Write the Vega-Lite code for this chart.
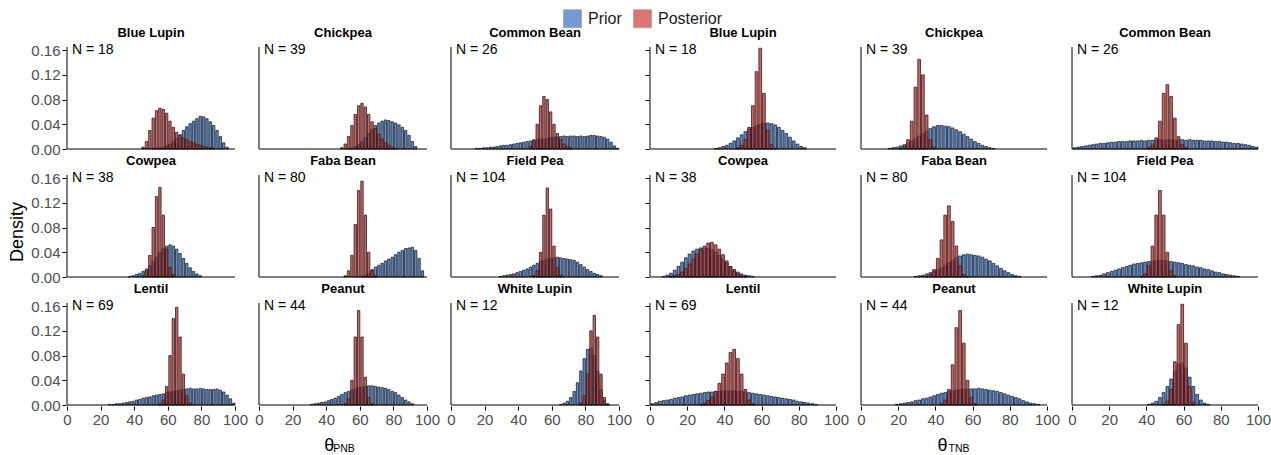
{
"$schema": "https://vega.github.io/schema/vega-lite/v6.json",
"padding": {"left": 8, "top": 9, "right": 0, "bottom": 0},
"config": {"font": "Liberation Sans", "view": {"stroke": null},
 "axis": {"grid": false, "domain": false, "tickColor": "#000", "tickSize": 4, "tickWidth": 1, "labelFontSize": 15, "labelColor": "#4d4d4d", "labelOverlap": false},
 "header": {"labelFontSize": 13, "labelFontWeight": "bold", "labelColor": "#000", "labelPadding": 3}},
"title": {"text": "Density", "orient": "left", "anchor": "middle", "fontSize": 18, "fontWeight": "normal", "color": "#000", "offset": 4},
"resolve": {"scale": {"color": "shared"}, "legend": {"color": "shared"}},
"spacing": 12,
"datasets": {
"pnb": [
{"c":"Blue Lupin","lab":"N = 18"},{"c":"Chickpea","lab":"N = 39"},{"c":"Common Bean","lab":"N = 26"},{"c":"Cowpea","lab":"N = 38"},{"c":"Faba Bean","lab":"N = 80"},{"c":"Field Pea","lab":"N = 104"},{"c":"Lentil","lab":"N = 69"},{"c":"Peanut","lab":"N = 44"},{"c":"White Lupin","lab":"N = 12"},
{"c":"Blue Lupin","s":"Prior","x":50,"y":0.001},{"c":"Blue Lupin","s":"Prior","x":52,"y":0.001},{"c":"Blue Lupin","s":"Prior","x":54,"y":0.002},{"c":"Blue Lupin","s":"Prior","x":56,"y":0.003},{"c":"Blue Lupin","s":"Prior","x":58,"y":0.005},{"c":"Blue Lupin","s":"Prior","x":60,"y":0.008},{"c":"Blue Lupin","s":"Prior","x":62,"y":0.012},{"c":"Blue Lupin","s":"Prior","x":64,"y":0.017},{"c":"Blue Lupin","s":"Prior","x":66,"y":0.023},{"c":"Blue Lupin","s":"Prior","x":68,"y":0.03},{"c":"Blue Lupin","s":"Prior","x":70,"y":0.036},{"c":"Blue Lupin","s":"Prior","x":72,"y":0.041},{"c":"Blue Lupin","s":"Prior","x":74,"y":0.045},{"c":"Blue Lupin","s":"Prior","x":76,"y":0.049},{"c":"Blue Lupin","s":"Prior","x":78,"y":0.053},{"c":"Blue Lupin","s":"Prior","x":80,"y":0.052},{"c":"Blue Lupin","s":"Prior","x":82,"y":0.049},{"c":"Blue Lupin","s":"Prior","x":84,"y":0.044},{"c":"Blue Lupin","s":"Prior","x":86,"y":0.038},{"c":"Blue Lupin","s":"Prior","x":88,"y":0.03},{"c":"Blue Lupin","s":"Prior","x":90,"y":0.02},{"c":"Blue Lupin","s":"Prior","x":92,"y":0.01},{"c":"Blue Lupin","s":"Prior","x":94,"y":0.003},
{"c":"Blue Lupin","s":"Posterior","x":44,"y":0.003},{"c":"Blue Lupin","s":"Posterior","x":46,"y":0.012},{"c":"Blue Lupin","s":"Posterior","x":48,"y":0.03},{"c":"Blue Lupin","s":"Posterior","x":50,"y":0.05},{"c":"Blue Lupin","s":"Posterior","x":52,"y":0.062},{"c":"Blue Lupin","s":"Posterior","x":54,"y":0.066},{"c":"Blue Lupin","s":"Posterior","x":56,"y":0.064},{"c":"Blue Lupin","s":"Posterior","x":58,"y":0.058},{"c":"Blue Lupin","s":"Posterior","x":60,"y":0.045},{"c":"Blue Lupin","s":"Posterior","x":62,"y":0.035},{"c":"Blue Lupin","s":"Posterior","x":64,"y":0.027},{"c":"Blue Lupin","s":"Posterior","x":66,"y":0.022},{"c":"Blue Lupin","s":"Posterior","x":68,"y":0.018},{"c":"Blue Lupin","s":"Posterior","x":70,"y":0.015},{"c":"Blue Lupin","s":"Posterior","x":72,"y":0.012},{"c":"Blue Lupin","s":"Posterior","x":74,"y":0.01},{"c":"Blue Lupin","s":"Posterior","x":76,"y":0.008},{"c":"Blue Lupin","s":"Posterior","x":78,"y":0.006},{"c":"Blue Lupin","s":"Posterior","x":80,"y":0.004},{"c":"Blue Lupin","s":"Posterior","x":82,"y":0.003},{"c":"Blue Lupin","s":"Posterior","x":84,"y":0.002},{"c":"Blue Lupin","s":"Posterior","x":86,"y":0.001},
{"c":"Chickpea","s":"Prior","x":52,"y":0.001},{"c":"Chickpea","s":"Prior","x":54,"y":0.002},{"c":"Chickpea","s":"Prior","x":56,"y":0.004},{"c":"Chickpea","s":"Prior","x":58,"y":0.007},{"c":"Chickpea","s":"Prior","x":60,"y":0.012},{"c":"Chickpea","s":"Prior","x":62,"y":0.018},{"c":"Chickpea","s":"Prior","x":64,"y":0.025},{"c":"Chickpea","s":"Prior","x":66,"y":0.032},{"c":"Chickpea","s":"Prior","x":68,"y":0.038},{"c":"Chickpea","s":"Prior","x":70,"y":0.042},{"c":"Chickpea","s":"Prior","x":72,"y":0.045},{"c":"Chickpea","s":"Prior","x":74,"y":0.047},{"c":"Chickpea","s":"Prior","x":76,"y":0.046},{"c":"Chickpea","s":"Prior","x":78,"y":0.044},{"c":"Chickpea","s":"Prior","x":80,"y":0.042},{"c":"Chickpea","s":"Prior","x":82,"y":0.039},{"c":"Chickpea","s":"Prior","x":84,"y":0.035},{"c":"Chickpea","s":"Prior","x":86,"y":0.03},{"c":"Chickpea","s":"Prior","x":88,"y":0.022},{"c":"Chickpea","s":"Prior","x":90,"y":0.012},{"c":"Chickpea","s":"Prior","x":92,"y":0.004},
{"c":"Chickpea","s":"Posterior","x":48,"y":0.002},{"c":"Chickpea","s":"Posterior","x":50,"y":0.008},{"c":"Chickpea","s":"Posterior","x":52,"y":0.02},{"c":"Chickpea","s":"Posterior","x":54,"y":0.038},{"c":"Chickpea","s":"Posterior","x":56,"y":0.056},{"c":"Chickpea","s":"Posterior","x":58,"y":0.07},{"c":"Chickpea","s":"Posterior","x":60,"y":0.074},{"c":"Chickpea","s":"Posterior","x":62,"y":0.068},{"c":"Chickpea","s":"Posterior","x":64,"y":0.056},{"c":"Chickpea","s":"Posterior","x":66,"y":0.044},{"c":"Chickpea","s":"Posterior","x":68,"y":0.033},{"c":"Chickpea","s":"Posterior","x":70,"y":0.024},{"c":"Chickpea","s":"Posterior","x":72,"y":0.016},{"c":"Chickpea","s":"Posterior","x":74,"y":0.01},{"c":"Chickpea","s":"Posterior","x":76,"y":0.006},{"c":"Chickpea","s":"Posterior","x":78,"y":0.003},{"c":"Chickpea","s":"Posterior","x":80,"y":0.001},
{"c":"Common Bean","s":"Prior","x":14,"y":0.001},{"c":"Common Bean","s":"Prior","x":16,"y":0.001},{"c":"Common Bean","s":"Prior","x":18,"y":0.002},{"c":"Common Bean","s":"Prior","x":20,"y":0.002},{"c":"Common Bean","s":"Prior","x":22,"y":0.003},{"c":"Common Bean","s":"Prior","x":24,"y":0.003},{"c":"Common Bean","s":"Prior","x":26,"y":0.004},{"c":"Common Bean","s":"Prior","x":28,"y":0.005},{"c":"Common Bean","s":"Prior","x":30,"y":0.006},{"c":"Common Bean","s":"Prior","x":32,"y":0.006},{"c":"Common Bean","s":"Prior","x":34,"y":0.007},{"c":"Common Bean","s":"Prior","x":36,"y":0.008},{"c":"Common Bean","s":"Prior","x":38,"y":0.009},{"c":"Common Bean","s":"Prior","x":40,"y":0.01},{"c":"Common Bean","s":"Prior","x":42,"y":0.011},{"c":"Common Bean","s":"Prior","x":44,"y":0.012},{"c":"Common Bean","s":"Prior","x":46,"y":0.013},{"c":"Common Bean","s":"Prior","x":48,"y":0.014},{"c":"Common Bean","s":"Prior","x":50,"y":0.015},{"c":"Common Bean","s":"Prior","x":52,"y":0.016},{"c":"Common Bean","s":"Prior","x":54,"y":0.016},{"c":"Common Bean","s":"Prior","x":56,"y":0.017},{"c":"Common Bean","s":"Prior","x":58,"y":0.018},{"c":"Common Bean","s":"Prior","x":60,"y":0.019},{"c":"Common Bean","s":"Prior","x":62,"y":0.02},{"c":"Common Bean","s":"Prior","x":64,"y":0.02},{"c":"Common Bean","s":"Prior","x":66,"y":0.021},{"c":"Common Bean","s":"Prior","x":68,"y":0.02},{"c":"Common Bean","s":"Prior","x":70,"y":0.021},{"c":"Common Bean","s":"Prior","x":72,"y":0.021},{"c":"Common Bean","s":"Prior","x":74,"y":0.02},{"c":"Common Bean","s":"Prior","x":76,"y":0.021},{"c":"Common Bean","s":"Prior","x":78,"y":0.02},{"c":"Common Bean","s":"Prior","x":80,"y":0.021},{"c":"Common Bean","s":"Prior","x":82,"y":0.022},{"c":"Common Bean","s":"Prior","x":84,"y":0.022},{"c":"Common Bean","s":"Prior","x":86,"y":0.021},{"c":"Common Bean","s":"Prior","x":88,"y":0.02},{"c":"Common Bean","s":"Prior","x":90,"y":0.019},{"c":"Common Bean","s":"Prior","x":92,"y":0.016},{"c":"Common Bean","s":"Prior","x":94,"y":0.011},{"c":"Common Bean","s":"Prior","x":96,"y":0.005},{"c":"Common Bean","s":"Prior","x":98,"y":0.001},
{"c":"Common Bean","s":"Posterior","x":46,"y":0.004},{"c":"Common Bean","s":"Posterior","x":48,"y":0.015},{"c":"Common Bean","s":"Posterior","x":50,"y":0.04},{"c":"Common Bean","s":"Posterior","x":52,"y":0.07},{"c":"Common Bean","s":"Posterior","x":54,"y":0.085},{"c":"Common Bean","s":"Posterior","x":56,"y":0.08},{"c":"Common Bean","s":"Posterior","x":58,"y":0.06},{"c":"Common Bean","s":"Posterior","x":60,"y":0.04},{"c":"Common Bean","s":"Posterior","x":62,"y":0.025},{"c":"Common Bean","s":"Posterior","x":64,"y":0.015},{"c":"Common Bean","s":"Posterior","x":66,"y":0.008},{"c":"Common Bean","s":"Posterior","x":68,"y":0.004},{"c":"Common Bean","s":"Posterior","x":70,"y":0.002},
{"c":"Cowpea","s":"Prior","x":36,"y":0.001},{"c":"Cowpea","s":"Prior","x":38,"y":0.002},{"c":"Cowpea","s":"Prior","x":40,"y":0.004},{"c":"Cowpea","s":"Prior","x":42,"y":0.006},{"c":"Cowpea","s":"Prior","x":44,"y":0.009},{"c":"Cowpea","s":"Prior","x":46,"y":0.013},{"c":"Cowpea","s":"Prior","x":48,"y":0.018},{"c":"Cowpea","s":"Prior","x":50,"y":0.025},{"c":"Cowpea","s":"Prior","x":52,"y":0.032},{"c":"Cowpea","s":"Prior","x":54,"y":0.04},{"c":"Cowpea","s":"Prior","x":56,"y":0.046},{"c":"Cowpea","s":"Prior","x":58,"y":0.05},{"c":"Cowpea","s":"Prior","x":60,"y":0.052},{"c":"Cowpea","s":"Prior","x":62,"y":0.05},{"c":"Cowpea","s":"Prior","x":64,"y":0.045},{"c":"Cowpea","s":"Prior","x":66,"y":0.038},{"c":"Cowpea","s":"Prior","x":68,"y":0.03},{"c":"Cowpea","s":"Prior","x":70,"y":0.022},{"c":"Cowpea","s":"Prior","x":72,"y":0.015},{"c":"Cowpea","s":"Prior","x":74,"y":0.009},{"c":"Cowpea","s":"Prior","x":76,"y":0.005},{"c":"Cowpea","s":"Prior","x":78,"y":0.002},
{"c":"Cowpea","s":"Posterior","x":44,"y":0.002},{"c":"Cowpea","s":"Posterior","x":46,"y":0.01},{"c":"Cowpea","s":"Posterior","x":48,"y":0.035},{"c":"Cowpea","s":"Posterior","x":50,"y":0.08},{"c":"Cowpea","s":"Posterior","x":52,"y":0.13},{"c":"Cowpea","s":"Posterior","x":54,"y":0.145},{"c":"Cowpea","s":"Posterior","x":56,"y":0.1},{"c":"Cowpea","s":"Posterior","x":58,"y":0.045},{"c":"Cowpea","s":"Posterior","x":60,"y":0.015},{"c":"Cowpea","s":"Posterior","x":62,"y":0.004},
{"c":"Faba Bean","s":"Prior","x":60,"y":0.001},{"c":"Faba Bean","s":"Prior","x":62,"y":0.003},{"c":"Faba Bean","s":"Prior","x":64,"y":0.006},{"c":"Faba Bean","s":"Prior","x":66,"y":0.012},{"c":"Faba Bean","s":"Prior","x":68,"y":0.016},{"c":"Faba Bean","s":"Prior","x":70,"y":0.019},{"c":"Faba Bean","s":"Prior","x":72,"y":0.022},{"c":"Faba Bean","s":"Prior","x":74,"y":0.026},{"c":"Faba Bean","s":"Prior","x":76,"y":0.029},{"c":"Faba Bean","s":"Prior","x":78,"y":0.032},{"c":"Faba Bean","s":"Prior","x":80,"y":0.036},{"c":"Faba Bean","s":"Prior","x":82,"y":0.04},{"c":"Faba Bean","s":"Prior","x":84,"y":0.043},{"c":"Faba Bean","s":"Prior","x":86,"y":0.046},{"c":"Faba Bean","s":"Prior","x":88,"y":0.047},{"c":"Faba Bean","s":"Prior","x":90,"y":0.048},{"c":"Faba Bean","s":"Prior","x":92,"y":0.043},{"c":"Faba Bean","s":"Prior","x":94,"y":0.03},{"c":"Faba Bean","s":"Prior","x":96,"y":0.01},
{"c":"Faba Bean","s":"Posterior","x":50,"y":0.002},{"c":"Faba Bean","s":"Posterior","x":52,"y":0.01},{"c":"Faba Bean","s":"Posterior","x":54,"y":0.035},{"c":"Faba Bean","s":"Posterior","x":56,"y":0.085},{"c":"Faba Bean","s":"Posterior","x":58,"y":0.14},{"c":"Faba Bean","s":"Posterior","x":60,"y":0.155},{"c":"Faba Bean","s":"Posterior","x":62,"y":0.1},{"c":"Faba Bean","s":"Posterior","x":64,"y":0.04},{"c":"Faba Bean","s":"Posterior","x":66,"y":0.01},{"c":"Faba Bean","s":"Posterior","x":68,"y":0.002},
{"c":"Field Pea","s":"Prior","x":28,"y":0.001},{"c":"Field Pea","s":"Prior","x":30,"y":0.002},{"c":"Field Pea","s":"Prior","x":32,"y":0.003},{"c":"Field Pea","s":"Prior","x":34,"y":0.004},{"c":"Field Pea","s":"Prior","x":36,"y":0.005},{"c":"Field Pea","s":"Prior","x":38,"y":0.007},{"c":"Field Pea","s":"Prior","x":40,"y":0.009},{"c":"Field Pea","s":"Prior","x":42,"y":0.011},{"c":"Field Pea","s":"Prior","x":44,"y":0.013},{"c":"Field Pea","s":"Prior","x":46,"y":0.016},{"c":"Field Pea","s":"Prior","x":48,"y":0.019},{"c":"Field Pea","s":"Prior","x":50,"y":0.022},{"c":"Field Pea","s":"Prior","x":52,"y":0.025},{"c":"Field Pea","s":"Prior","x":54,"y":0.027},{"c":"Field Pea","s":"Prior","x":56,"y":0.029},{"c":"Field Pea","s":"Prior","x":58,"y":0.03},{"c":"Field Pea","s":"Prior","x":60,"y":0.031},{"c":"Field Pea","s":"Prior","x":62,"y":0.032},{"c":"Field Pea","s":"Prior","x":64,"y":0.031},{"c":"Field Pea","s":"Prior","x":66,"y":0.03},{"c":"Field Pea","s":"Prior","x":68,"y":0.029},{"c":"Field Pea","s":"Prior","x":70,"y":0.028},{"c":"Field Pea","s":"Prior","x":72,"y":0.027},{"c":"Field Pea","s":"Prior","x":74,"y":0.024},{"c":"Field Pea","s":"Prior","x":76,"y":0.02},{"c":"Field Pea","s":"Prior","x":78,"y":0.016},{"c":"Field Pea","s":"Prior","x":80,"y":0.012},{"c":"Field Pea","s":"Prior","x":82,"y":0.009},{"c":"Field Pea","s":"Prior","x":84,"y":0.006},{"c":"Field Pea","s":"Prior","x":86,"y":0.004},{"c":"Field Pea","s":"Prior","x":88,"y":0.002},
{"c":"Field Pea","s":"Posterior","x":48,"y":0.002},{"c":"Field Pea","s":"Posterior","x":50,"y":0.01},{"c":"Field Pea","s":"Posterior","x":52,"y":0.04},{"c":"Field Pea","s":"Posterior","x":54,"y":0.1},{"c":"Field Pea","s":"Posterior","x":56,"y":0.144},{"c":"Field Pea","s":"Posterior","x":58,"y":0.11},{"c":"Field Pea","s":"Posterior","x":60,"y":0.05},{"c":"Field Pea","s":"Posterior","x":62,"y":0.015},{"c":"Field Pea","s":"Posterior","x":64,"y":0.003},
{"c":"Lentil","s":"Prior","x":24,"y":0.001},{"c":"Lentil","s":"Prior","x":26,"y":0.001},{"c":"Lentil","s":"Prior","x":28,"y":0.002},{"c":"Lentil","s":"Prior","x":30,"y":0.002},{"c":"Lentil","s":"Prior","x":32,"y":0.003},{"c":"Lentil","s":"Prior","x":34,"y":0.004},{"c":"Lentil","s":"Prior","x":36,"y":0.005},{"c":"Lentil","s":"Prior","x":38,"y":0.006},{"c":"Lentil","s":"Prior","x":40,"y":0.008},{"c":"Lentil","s":"Prior","x":42,"y":0.009},{"c":"Lentil","s":"Prior","x":44,"y":0.011},{"c":"Lentil","s":"Prior","x":46,"y":0.012},{"c":"Lentil","s":"Prior","x":48,"y":0.013},{"c":"Lentil","s":"Prior","x":50,"y":0.015},{"c":"Lentil","s":"Prior","x":52,"y":0.016},{"c":"Lentil","s":"Prior","x":54,"y":0.017},{"c":"Lentil","s":"Prior","x":56,"y":0.018},{"c":"Lentil","s":"Prior","x":58,"y":0.02},{"c":"Lentil","s":"Prior","x":60,"y":0.021},{"c":"Lentil","s":"Prior","x":62,"y":0.022},{"c":"Lentil","s":"Prior","x":64,"y":0.023},{"c":"Lentil","s":"Prior","x":66,"y":0.024},{"c":"Lentil","s":"Prior","x":68,"y":0.025},{"c":"Lentil","s":"Prior","x":70,"y":0.026},{"c":"Lentil","s":"Prior","x":72,"y":0.027},{"c":"Lentil","s":"Prior","x":74,"y":0.026},{"c":"Lentil","s":"Prior","x":76,"y":0.026},{"c":"Lentil","s":"Prior","x":78,"y":0.027},{"c":"Lentil","s":"Prior","x":80,"y":0.026},{"c":"Lentil","s":"Prior","x":82,"y":0.025},{"c":"Lentil","s":"Prior","x":84,"y":0.025},{"c":"Lentil","s":"Prior","x":86,"y":0.025},{"c":"Lentil","s":"Prior","x":88,"y":0.026},{"c":"Lentil","s":"Prior","x":90,"y":0.024},{"c":"Lentil","s":"Prior","x":92,"y":0.021},{"c":"Lentil","s":"Prior","x":94,"y":0.016},{"c":"Lentil","s":"Prior","x":96,"y":0.01},{"c":"Lentil","s":"Prior","x":98,"y":0.003},
{"c":"Lentil","s":"Posterior","x":54,"y":0.002},{"c":"Lentil","s":"Posterior","x":56,"y":0.008},{"c":"Lentil","s":"Posterior","x":58,"y":0.03},{"c":"Lentil","s":"Posterior","x":60,"y":0.08},{"c":"Lentil","s":"Posterior","x":62,"y":0.14},{"c":"Lentil","s":"Posterior","x":64,"y":0.158},{"c":"Lentil","s":"Posterior","x":66,"y":0.11},{"c":"Lentil","s":"Posterior","x":68,"y":0.05},{"c":"Lentil","s":"Posterior","x":70,"y":0.015},{"c":"Lentil","s":"Posterior","x":72,"y":0.003},
{"c":"Peanut","s":"Prior","x":30,"y":0.001},{"c":"Peanut","s":"Prior","x":32,"y":0.002},{"c":"Peanut","s":"Prior","x":34,"y":0.003},{"c":"Peanut","s":"Prior","x":36,"y":0.004},{"c":"Peanut","s":"Prior","x":38,"y":0.005},{"c":"Peanut","s":"Prior","x":40,"y":0.007},{"c":"Peanut","s":"Prior","x":42,"y":0.009},{"c":"Peanut","s":"Prior","x":44,"y":0.011},{"c":"Peanut","s":"Prior","x":46,"y":0.014},{"c":"Peanut","s":"Prior","x":48,"y":0.017},{"c":"Peanut","s":"Prior","x":50,"y":0.02},{"c":"Peanut","s":"Prior","x":52,"y":0.022},{"c":"Peanut","s":"Prior","x":54,"y":0.024},{"c":"Peanut","s":"Prior","x":56,"y":0.026},{"c":"Peanut","s":"Prior","x":58,"y":0.028},{"c":"Peanut","s":"Prior","x":60,"y":0.029},{"c":"Peanut","s":"Prior","x":62,"y":0.03},{"c":"Peanut","s":"Prior","x":64,"y":0.031},{"c":"Peanut","s":"Prior","x":66,"y":0.031},{"c":"Peanut","s":"Prior","x":68,"y":0.03},{"c":"Peanut","s":"Prior","x":70,"y":0.029},{"c":"Peanut","s":"Prior","x":72,"y":0.028},{"c":"Peanut","s":"Prior","x":74,"y":0.027},{"c":"Peanut","s":"Prior","x":76,"y":0.025},{"c":"Peanut","s":"Prior","x":78,"y":0.022},{"c":"Peanut","s":"Prior","x":80,"y":0.02},{"c":"Peanut","s":"Prior","x":82,"y":0.016},{"c":"Peanut","s":"Prior","x":84,"y":0.012},{"c":"Peanut","s":"Prior","x":86,"y":0.008},{"c":"Peanut","s":"Prior","x":88,"y":0.005},{"c":"Peanut","s":"Prior","x":90,"y":0.002},
{"c":"Peanut","s":"Posterior","x":50,"y":0.002},{"c":"Peanut","s":"Posterior","x":52,"y":0.01},{"c":"Peanut","s":"Posterior","x":54,"y":0.04},{"c":"Peanut","s":"Posterior","x":56,"y":0.11},{"c":"Peanut","s":"Posterior","x":58,"y":0.153},{"c":"Peanut","s":"Posterior","x":60,"y":0.11},{"c":"Peanut","s":"Posterior","x":62,"y":0.045},{"c":"Peanut","s":"Posterior","x":64,"y":0.012},{"c":"Peanut","s":"Posterior","x":66,"y":0.002},
{"c":"White Lupin","s":"Prior","x":64,"y":0.001},{"c":"White Lupin","s":"Prior","x":66,"y":0.003},{"c":"White Lupin","s":"Prior","x":68,"y":0.006},{"c":"White Lupin","s":"Prior","x":70,"y":0.012},{"c":"White Lupin","s":"Prior","x":72,"y":0.022},{"c":"White Lupin","s":"Prior","x":74,"y":0.036},{"c":"White Lupin","s":"Prior","x":76,"y":0.055},{"c":"White Lupin","s":"Prior","x":78,"y":0.075},{"c":"White Lupin","s":"Prior","x":80,"y":0.09},{"c":"White Lupin","s":"Prior","x":82,"y":0.092},{"c":"White Lupin","s":"Prior","x":84,"y":0.08},{"c":"White Lupin","s":"Prior","x":86,"y":0.055},{"c":"White Lupin","s":"Prior","x":88,"y":0.025},{"c":"White Lupin","s":"Prior","x":90,"y":0.008},{"c":"White Lupin","s":"Prior","x":92,"y":0.001},
{"c":"White Lupin","s":"Posterior","x":76,"y":0.003},{"c":"White Lupin","s":"Posterior","x":78,"y":0.015},{"c":"White Lupin","s":"Posterior","x":80,"y":0.05},{"c":"White Lupin","s":"Posterior","x":82,"y":0.12},{"c":"White Lupin","s":"Posterior","x":84,"y":0.145},{"c":"White Lupin","s":"Posterior","x":86,"y":0.11},{"c":"White Lupin","s":"Posterior","x":88,"y":0.05},{"c":"White Lupin","s":"Posterior","x":90,"y":0.012},{"c":"White Lupin","s":"Posterior","x":92,"y":0.002}
],
"tnb": [
{"c":"Blue Lupin","lab":"N = 18"},{"c":"Chickpea","lab":"N = 39"},{"c":"Common Bean","lab":"N = 26"},{"c":"Cowpea","lab":"N = 38"},{"c":"Faba Bean","lab":"N = 80"},{"c":"Field Pea","lab":"N = 104"},{"c":"Lentil","lab":"N = 69"},{"c":"Peanut","lab":"N = 44"},{"c":"White Lupin","lab":"N = 12"},
{"c":"Blue Lupin","s":"Prior","x":34,"y":0.001},{"c":"Blue Lupin","s":"Prior","x":36,"y":0.002},{"c":"Blue Lupin","s":"Prior","x":38,"y":0.004},{"c":"Blue Lupin","s":"Prior","x":40,"y":0.006},{"c":"Blue Lupin","s":"Prior","x":42,"y":0.009},{"c":"Blue Lupin","s":"Prior","x":44,"y":0.013},{"c":"Blue Lupin","s":"Prior","x":46,"y":0.018},{"c":"Blue Lupin","s":"Prior","x":48,"y":0.023},{"c":"Blue Lupin","s":"Prior","x":50,"y":0.028},{"c":"Blue Lupin","s":"Prior","x":52,"y":0.032},{"c":"Blue Lupin","s":"Prior","x":54,"y":0.035},{"c":"Blue Lupin","s":"Prior","x":56,"y":0.038},{"c":"Blue Lupin","s":"Prior","x":58,"y":0.04},{"c":"Blue Lupin","s":"Prior","x":60,"y":0.042},{"c":"Blue Lupin","s":"Prior","x":62,"y":0.042},{"c":"Blue Lupin","s":"Prior","x":64,"y":0.041},{"c":"Blue Lupin","s":"Prior","x":66,"y":0.039},{"c":"Blue Lupin","s":"Prior","x":68,"y":0.035},{"c":"Blue Lupin","s":"Prior","x":70,"y":0.03},{"c":"Blue Lupin","s":"Prior","x":72,"y":0.025},{"c":"Blue Lupin","s":"Prior","x":74,"y":0.019},{"c":"Blue Lupin","s":"Prior","x":76,"y":0.013},{"c":"Blue Lupin","s":"Prior","x":78,"y":0.008},{"c":"Blue Lupin","s":"Prior","x":80,"y":0.004},{"c":"Blue Lupin","s":"Prior","x":82,"y":0.002},
{"c":"Blue Lupin","s":"Posterior","x":46,"y":0.002},{"c":"Blue Lupin","s":"Posterior","x":48,"y":0.006},{"c":"Blue Lupin","s":"Posterior","x":50,"y":0.015},{"c":"Blue Lupin","s":"Posterior","x":52,"y":0.035},{"c":"Blue Lupin","s":"Posterior","x":54,"y":0.07},{"c":"Blue Lupin","s":"Posterior","x":56,"y":0.125},{"c":"Blue Lupin","s":"Posterior","x":58,"y":0.163},{"c":"Blue Lupin","s":"Posterior","x":60,"y":0.09},{"c":"Blue Lupin","s":"Posterior","x":62,"y":0.03},{"c":"Blue Lupin","s":"Posterior","x":64,"y":0.007},{"c":"Blue Lupin","s":"Posterior","x":66,"y":0.001},
{"c":"Chickpea","s":"Prior","x":14,"y":0.001},{"c":"Chickpea","s":"Prior","x":16,"y":0.002},{"c":"Chickpea","s":"Prior","x":18,"y":0.003},{"c":"Chickpea","s":"Prior","x":20,"y":0.005},{"c":"Chickpea","s":"Prior","x":22,"y":0.007},{"c":"Chickpea","s":"Prior","x":24,"y":0.01},{"c":"Chickpea","s":"Prior","x":26,"y":0.013},{"c":"Chickpea","s":"Prior","x":28,"y":0.017},{"c":"Chickpea","s":"Prior","x":30,"y":0.021},{"c":"Chickpea","s":"Prior","x":32,"y":0.025},{"c":"Chickpea","s":"Prior","x":34,"y":0.029},{"c":"Chickpea","s":"Prior","x":36,"y":0.033},{"c":"Chickpea","s":"Prior","x":38,"y":0.036},{"c":"Chickpea","s":"Prior","x":40,"y":0.038},{"c":"Chickpea","s":"Prior","x":42,"y":0.038},{"c":"Chickpea","s":"Prior","x":44,"y":0.037},{"c":"Chickpea","s":"Prior","x":46,"y":0.036},{"c":"Chickpea","s":"Prior","x":48,"y":0.034},{"c":"Chickpea","s":"Prior","x":50,"y":0.031},{"c":"Chickpea","s":"Prior","x":52,"y":0.028},{"c":"Chickpea","s":"Prior","x":54,"y":0.024},{"c":"Chickpea","s":"Prior","x":56,"y":0.02},{"c":"Chickpea","s":"Prior","x":58,"y":0.016},{"c":"Chickpea","s":"Prior","x":60,"y":0.012},{"c":"Chickpea","s":"Prior","x":62,"y":0.009},{"c":"Chickpea","s":"Prior","x":64,"y":0.006},{"c":"Chickpea","s":"Prior","x":66,"y":0.004},{"c":"Chickpea","s":"Prior","x":68,"y":0.002},{"c":"Chickpea","s":"Prior","x":70,"y":0.001},
{"c":"Chickpea","s":"Posterior","x":20,"y":0.001},{"c":"Chickpea","s":"Posterior","x":22,"y":0.004},{"c":"Chickpea","s":"Posterior","x":24,"y":0.015},{"c":"Chickpea","s":"Posterior","x":26,"y":0.045},{"c":"Chickpea","s":"Posterior","x":28,"y":0.1},{"c":"Chickpea","s":"Posterior","x":30,"y":0.145},{"c":"Chickpea","s":"Posterior","x":32,"y":0.12},{"c":"Chickpea","s":"Posterior","x":34,"y":0.055},{"c":"Chickpea","s":"Posterior","x":36,"y":0.015},{"c":"Chickpea","s":"Posterior","x":38,"y":0.003},
{"c":"Common Bean","s":"Prior","x":0,"y":0.002},{"c":"Common Bean","s":"Prior","x":2,"y":0.003},{"c":"Common Bean","s":"Prior","x":4,"y":0.004},{"c":"Common Bean","s":"Prior","x":6,"y":0.005},{"c":"Common Bean","s":"Prior","x":8,"y":0.006},{"c":"Common Bean","s":"Prior","x":10,"y":0.007},{"c":"Common Bean","s":"Prior","x":12,"y":0.008},{"c":"Common Bean","s":"Prior","x":14,"y":0.009},{"c":"Common Bean","s":"Prior","x":16,"y":0.009},{"c":"Common Bean","s":"Prior","x":18,"y":0.01},{"c":"Common Bean","s":"Prior","x":20,"y":0.011},{"c":"Common Bean","s":"Prior","x":22,"y":0.011},{"c":"Common Bean","s":"Prior","x":24,"y":0.012},{"c":"Common Bean","s":"Prior","x":26,"y":0.012},{"c":"Common Bean","s":"Prior","x":28,"y":0.012},{"c":"Common Bean","s":"Prior","x":30,"y":0.013},{"c":"Common Bean","s":"Prior","x":32,"y":0.013},{"c":"Common Bean","s":"Prior","x":34,"y":0.013},{"c":"Common Bean","s":"Prior","x":36,"y":0.014},{"c":"Common Bean","s":"Prior","x":38,"y":0.013},{"c":"Common Bean","s":"Prior","x":40,"y":0.014},{"c":"Common Bean","s":"Prior","x":42,"y":0.014},{"c":"Common Bean","s":"Prior","x":44,"y":0.014},{"c":"Common Bean","s":"Prior","x":46,"y":0.015},{"c":"Common Bean","s":"Prior","x":48,"y":0.014},{"c":"Common Bean","s":"Prior","x":50,"y":0.015},{"c":"Common Bean","s":"Prior","x":52,"y":0.015},{"c":"Common Bean","s":"Prior","x":54,"y":0.014},{"c":"Common Bean","s":"Prior","x":56,"y":0.015},{"c":"Common Bean","s":"Prior","x":58,"y":0.015},{"c":"Common Bean","s":"Prior","x":60,"y":0.014},{"c":"Common Bean","s":"Prior","x":62,"y":0.015},{"c":"Common Bean","s":"Prior","x":64,"y":0.014},{"c":"Common Bean","s":"Prior","x":66,"y":0.014},{"c":"Common Bean","s":"Prior","x":68,"y":0.014},{"c":"Common Bean","s":"Prior","x":70,"y":0.013},{"c":"Common Bean","s":"Prior","x":72,"y":0.013},{"c":"Common Bean","s":"Prior","x":74,"y":0.013},{"c":"Common Bean","s":"Prior","x":76,"y":0.012},{"c":"Common Bean","s":"Prior","x":78,"y":0.012},{"c":"Common Bean","s":"Prior","x":80,"y":0.011},{"c":"Common Bean","s":"Prior","x":82,"y":0.011},{"c":"Common Bean","s":"Prior","x":84,"y":0.01},{"c":"Common Bean","s":"Prior","x":86,"y":0.009},{"c":"Common Bean","s":"Prior","x":88,"y":0.009},{"c":"Common Bean","s":"Prior","x":90,"y":0.008},{"c":"Common Bean","s":"Prior","x":92,"y":0.007},{"c":"Common Bean","s":"Prior","x":94,"y":0.006},{"c":"Common Bean","s":"Prior","x":96,"y":0.004},{"c":"Common Bean","s":"Prior","x":98,"y":0.003},
{"c":"Common Bean","s":"Posterior","x":40,"y":0.002},{"c":"Common Bean","s":"Posterior","x":42,"y":0.006},{"c":"Common Bean","s":"Posterior","x":44,"y":0.018},{"c":"Common Bean","s":"Posterior","x":46,"y":0.045},{"c":"Common Bean","s":"Posterior","x":48,"y":0.09},{"c":"Common Bean","s":"Posterior","x":50,"y":0.104},{"c":"Common Bean","s":"Posterior","x":52,"y":0.085},{"c":"Common Bean","s":"Posterior","x":54,"y":0.05},{"c":"Common Bean","s":"Posterior","x":56,"y":0.02},{"c":"Common Bean","s":"Posterior","x":58,"y":0.007},{"c":"Common Bean","s":"Posterior","x":60,"y":0.002},
{"c":"Cowpea","s":"Prior","x":6,"y":0.001},{"c":"Cowpea","s":"Prior","x":8,"y":0.003},{"c":"Cowpea","s":"Prior","x":10,"y":0.006},{"c":"Cowpea","s":"Prior","x":12,"y":0.011},{"c":"Cowpea","s":"Prior","x":14,"y":0.017},{"c":"Cowpea","s":"Prior","x":16,"y":0.024},{"c":"Cowpea","s":"Prior","x":18,"y":0.031},{"c":"Cowpea","s":"Prior","x":20,"y":0.037},{"c":"Cowpea","s":"Prior","x":22,"y":0.042},{"c":"Cowpea","s":"Prior","x":24,"y":0.045},{"c":"Cowpea","s":"Prior","x":26,"y":0.047},{"c":"Cowpea","s":"Prior","x":28,"y":0.047},{"c":"Cowpea","s":"Prior","x":30,"y":0.046},{"c":"Cowpea","s":"Prior","x":32,"y":0.044},{"c":"Cowpea","s":"Prior","x":34,"y":0.04},{"c":"Cowpea","s":"Prior","x":36,"y":0.035},{"c":"Cowpea","s":"Prior","x":38,"y":0.029},{"c":"Cowpea","s":"Prior","x":40,"y":0.023},{"c":"Cowpea","s":"Prior","x":42,"y":0.017},{"c":"Cowpea","s":"Prior","x":44,"y":0.012},{"c":"Cowpea","s":"Prior","x":46,"y":0.008},{"c":"Cowpea","s":"Prior","x":48,"y":0.005},{"c":"Cowpea","s":"Prior","x":50,"y":0.003},{"c":"Cowpea","s":"Prior","x":52,"y":0.002},{"c":"Cowpea","s":"Prior","x":54,"y":0.001},
{"c":"Cowpea","s":"Posterior","x":10,"y":0.001},{"c":"Cowpea","s":"Posterior","x":12,"y":0.002},{"c":"Cowpea","s":"Posterior","x":14,"y":0.004},{"c":"Cowpea","s":"Posterior","x":16,"y":0.008},{"c":"Cowpea","s":"Posterior","x":18,"y":0.014},{"c":"Cowpea","s":"Posterior","x":20,"y":0.021},{"c":"Cowpea","s":"Posterior","x":22,"y":0.029},{"c":"Cowpea","s":"Posterior","x":24,"y":0.037},{"c":"Cowpea","s":"Posterior","x":26,"y":0.044},{"c":"Cowpea","s":"Posterior","x":28,"y":0.05},{"c":"Cowpea","s":"Posterior","x":30,"y":0.055},{"c":"Cowpea","s":"Posterior","x":32,"y":0.056},{"c":"Cowpea","s":"Posterior","x":34,"y":0.052},{"c":"Cowpea","s":"Posterior","x":36,"y":0.045},{"c":"Cowpea","s":"Posterior","x":38,"y":0.036},{"c":"Cowpea","s":"Posterior","x":40,"y":0.026},{"c":"Cowpea","s":"Posterior","x":42,"y":0.017},{"c":"Cowpea","s":"Posterior","x":44,"y":0.01},{"c":"Cowpea","s":"Posterior","x":46,"y":0.005},{"c":"Cowpea","s":"Posterior","x":48,"y":0.002},{"c":"Cowpea","s":"Posterior","x":50,"y":0.001},
{"c":"Faba Bean","s":"Prior","x":28,"y":0.001},{"c":"Faba Bean","s":"Prior","x":30,"y":0.002},{"c":"Faba Bean","s":"Prior","x":32,"y":0.003},{"c":"Faba Bean","s":"Prior","x":34,"y":0.005},{"c":"Faba Bean","s":"Prior","x":36,"y":0.007},{"c":"Faba Bean","s":"Prior","x":38,"y":0.009},{"c":"Faba Bean","s":"Prior","x":40,"y":0.012},{"c":"Faba Bean","s":"Prior","x":42,"y":0.015},{"c":"Faba Bean","s":"Prior","x":44,"y":0.019},{"c":"Faba Bean","s":"Prior","x":46,"y":0.023},{"c":"Faba Bean","s":"Prior","x":48,"y":0.027},{"c":"Faba Bean","s":"Prior","x":50,"y":0.031},{"c":"Faba Bean","s":"Prior","x":52,"y":0.034},{"c":"Faba Bean","s":"Prior","x":54,"y":0.036},{"c":"Faba Bean","s":"Prior","x":56,"y":0.037},{"c":"Faba Bean","s":"Prior","x":58,"y":0.036},{"c":"Faba Bean","s":"Prior","x":60,"y":0.035},{"c":"Faba Bean","s":"Prior","x":62,"y":0.034},{"c":"Faba Bean","s":"Prior","x":64,"y":0.032},{"c":"Faba Bean","s":"Prior","x":66,"y":0.029},{"c":"Faba Bean","s":"Prior","x":68,"y":0.026},{"c":"Faba Bean","s":"Prior","x":70,"y":0.022},{"c":"Faba Bean","s":"Prior","x":72,"y":0.018},{"c":"Faba Bean","s":"Prior","x":74,"y":0.014},{"c":"Faba Bean","s":"Prior","x":76,"y":0.01},{"c":"Faba Bean","s":"Prior","x":78,"y":0.007},{"c":"Faba Bean","s":"Prior","x":80,"y":0.004},{"c":"Faba Bean","s":"Prior","x":82,"y":0.002},{"c":"Faba Bean","s":"Prior","x":84,"y":0.001},
{"c":"Faba Bean","s":"Posterior","x":34,"y":0.001},{"c":"Faba Bean","s":"Posterior","x":36,"y":0.004},{"c":"Faba Bean","s":"Posterior","x":38,"y":0.012},{"c":"Faba Bean","s":"Posterior","x":40,"y":0.03},{"c":"Faba Bean","s":"Posterior","x":42,"y":0.06},{"c":"Faba Bean","s":"Posterior","x":44,"y":0.1},{"c":"Faba Bean","s":"Posterior","x":46,"y":0.115},{"c":"Faba Bean","s":"Posterior","x":48,"y":0.09},{"c":"Faba Bean","s":"Posterior","x":50,"y":0.05},{"c":"Faba Bean","s":"Posterior","x":52,"y":0.018},{"c":"Faba Bean","s":"Posterior","x":54,"y":0.004},{"c":"Faba Bean","s":"Posterior","x":56,"y":0.001},
{"c":"Field Pea","s":"Prior","x":10,"y":0.001},{"c":"Field Pea","s":"Prior","x":12,"y":0.002},{"c":"Field Pea","s":"Prior","x":14,"y":0.003},{"c":"Field Pea","s":"Prior","x":16,"y":0.005},{"c":"Field Pea","s":"Prior","x":18,"y":0.007},{"c":"Field Pea","s":"Prior","x":20,"y":0.009},{"c":"Field Pea","s":"Prior","x":22,"y":0.011},{"c":"Field Pea","s":"Prior","x":24,"y":0.013},{"c":"Field Pea","s":"Prior","x":26,"y":0.015},{"c":"Field Pea","s":"Prior","x":28,"y":0.017},{"c":"Field Pea","s":"Prior","x":30,"y":0.019},{"c":"Field Pea","s":"Prior","x":32,"y":0.021},{"c":"Field Pea","s":"Prior","x":34,"y":0.022},{"c":"Field Pea","s":"Prior","x":36,"y":0.023},{"c":"Field Pea","s":"Prior","x":38,"y":0.024},{"c":"Field Pea","s":"Prior","x":40,"y":0.025},{"c":"Field Pea","s":"Prior","x":42,"y":0.026},{"c":"Field Pea","s":"Prior","x":44,"y":0.026},{"c":"Field Pea","s":"Prior","x":46,"y":0.027},{"c":"Field Pea","s":"Prior","x":48,"y":0.027},{"c":"Field Pea","s":"Prior","x":50,"y":0.026},{"c":"Field Pea","s":"Prior","x":52,"y":0.025},{"c":"Field Pea","s":"Prior","x":54,"y":0.024},{"c":"Field Pea","s":"Prior","x":56,"y":0.023},{"c":"Field Pea","s":"Prior","x":58,"y":0.022},{"c":"Field Pea","s":"Prior","x":60,"y":0.02},{"c":"Field Pea","s":"Prior","x":62,"y":0.019},{"c":"Field Pea","s":"Prior","x":64,"y":0.018},{"c":"Field Pea","s":"Prior","x":66,"y":0.016},{"c":"Field Pea","s":"Prior","x":68,"y":0.015},{"c":"Field Pea","s":"Prior","x":70,"y":0.013},{"c":"Field Pea","s":"Prior","x":72,"y":0.012},{"c":"Field Pea","s":"Prior","x":74,"y":0.01},{"c":"Field Pea","s":"Prior","x":76,"y":0.008},{"c":"Field Pea","s":"Prior","x":78,"y":0.007},{"c":"Field Pea","s":"Prior","x":80,"y":0.005},{"c":"Field Pea","s":"Prior","x":82,"y":0.004},{"c":"Field Pea","s":"Prior","x":84,"y":0.003},{"c":"Field Pea","s":"Prior","x":86,"y":0.002},{"c":"Field Pea","s":"Prior","x":88,"y":0.001},
{"c":"Field Pea","s":"Posterior","x":36,"y":0.001},{"c":"Field Pea","s":"Posterior","x":38,"y":0.005},{"c":"Field Pea","s":"Posterior","x":40,"y":0.018},{"c":"Field Pea","s":"Posterior","x":42,"y":0.05},{"c":"Field Pea","s":"Posterior","x":44,"y":0.1},{"c":"Field Pea","s":"Posterior","x":46,"y":0.14},{"c":"Field Pea","s":"Posterior","x":48,"y":0.1},{"c":"Field Pea","s":"Posterior","x":50,"y":0.04},{"c":"Field Pea","s":"Posterior","x":52,"y":0.01},{"c":"Field Pea","s":"Posterior","x":54,"y":0.002},
{"c":"Lentil","s":"Prior","x":0,"y":0.002},{"c":"Lentil","s":"Prior","x":2,"y":0.004},{"c":"Lentil","s":"Prior","x":4,"y":0.006},{"c":"Lentil","s":"Prior","x":6,"y":0.007},{"c":"Lentil","s":"Prior","x":8,"y":0.008},{"c":"Lentil","s":"Prior","x":10,"y":0.009},{"c":"Lentil","s":"Prior","x":12,"y":0.011},{"c":"Lentil","s":"Prior","x":14,"y":0.012},{"c":"Lentil","s":"Prior","x":16,"y":0.013},{"c":"Lentil","s":"Prior","x":18,"y":0.015},{"c":"Lentil","s":"Prior","x":20,"y":0.016},{"c":"Lentil","s":"Prior","x":22,"y":0.017},{"c":"Lentil","s":"Prior","x":24,"y":0.018},{"c":"Lentil","s":"Prior","x":26,"y":0.019},{"c":"Lentil","s":"Prior","x":28,"y":0.02},{"c":"Lentil","s":"Prior","x":30,"y":0.021},{"c":"Lentil","s":"Prior","x":32,"y":0.021},{"c":"Lentil","s":"Prior","x":34,"y":0.022},{"c":"Lentil","s":"Prior","x":36,"y":0.022},{"c":"Lentil","s":"Prior","x":38,"y":0.023},{"c":"Lentil","s":"Prior","x":40,"y":0.023},{"c":"Lentil","s":"Prior","x":42,"y":0.023},{"c":"Lentil","s":"Prior","x":44,"y":0.023},{"c":"Lentil","s":"Prior","x":46,"y":0.022},{"c":"Lentil","s":"Prior","x":48,"y":0.022},{"c":"Lentil","s":"Prior","x":50,"y":0.021},{"c":"Lentil","s":"Prior","x":52,"y":0.02},{"c":"Lentil","s":"Prior","x":54,"y":0.019},{"c":"Lentil","s":"Prior","x":56,"y":0.018},{"c":"Lentil","s":"Prior","x":58,"y":0.017},{"c":"Lentil","s":"Prior","x":60,"y":0.016},{"c":"Lentil","s":"Prior","x":62,"y":0.015},{"c":"Lentil","s":"Prior","x":64,"y":0.014},{"c":"Lentil","s":"Prior","x":66,"y":0.013},{"c":"Lentil","s":"Prior","x":68,"y":0.012},{"c":"Lentil","s":"Prior","x":70,"y":0.011},{"c":"Lentil","s":"Prior","x":72,"y":0.01},{"c":"Lentil","s":"Prior","x":74,"y":0.009},{"c":"Lentil","s":"Prior","x":76,"y":0.008},{"c":"Lentil","s":"Prior","x":78,"y":0.006},{"c":"Lentil","s":"Prior","x":80,"y":0.005},{"c":"Lentil","s":"Prior","x":82,"y":0.004},{"c":"Lentil","s":"Prior","x":84,"y":0.003},{"c":"Lentil","s":"Prior","x":86,"y":0.002},{"c":"Lentil","s":"Prior","x":88,"y":0.001},
{"c":"Lentil","s":"Posterior","x":26,"y":0.001},{"c":"Lentil","s":"Posterior","x":28,"y":0.003},{"c":"Lentil","s":"Posterior","x":30,"y":0.007},{"c":"Lentil","s":"Posterior","x":32,"y":0.013},{"c":"Lentil","s":"Posterior","x":34,"y":0.022},{"c":"Lentil","s":"Posterior","x":36,"y":0.035},{"c":"Lentil","s":"Posterior","x":38,"y":0.05},{"c":"Lentil","s":"Posterior","x":40,"y":0.068},{"c":"Lentil","s":"Posterior","x":42,"y":0.085},{"c":"Lentil","s":"Posterior","x":44,"y":0.09},{"c":"Lentil","s":"Posterior","x":46,"y":0.075},{"c":"Lentil","s":"Posterior","x":48,"y":0.05},{"c":"Lentil","s":"Posterior","x":50,"y":0.025},{"c":"Lentil","s":"Posterior","x":52,"y":0.008},{"c":"Lentil","s":"Posterior","x":54,"y":0.002},
{"c":"Peanut","s":"Prior","x":18,"y":0.001},{"c":"Peanut","s":"Prior","x":20,"y":0.002},{"c":"Peanut","s":"Prior","x":22,"y":0.003},{"c":"Peanut","s":"Prior","x":24,"y":0.004},{"c":"Peanut","s":"Prior","x":26,"y":0.005},{"c":"Peanut","s":"Prior","x":28,"y":0.007},{"c":"Peanut","s":"Prior","x":30,"y":0.008},{"c":"Peanut","s":"Prior","x":32,"y":0.01},{"c":"Peanut","s":"Prior","x":34,"y":0.011},{"c":"Peanut","s":"Prior","x":36,"y":0.013},{"c":"Peanut","s":"Prior","x":38,"y":0.015},{"c":"Peanut","s":"Prior","x":40,"y":0.017},{"c":"Peanut","s":"Prior","x":42,"y":0.019},{"c":"Peanut","s":"Prior","x":44,"y":0.02},{"c":"Peanut","s":"Prior","x":46,"y":0.022},{"c":"Peanut","s":"Prior","x":48,"y":0.023},{"c":"Peanut","s":"Prior","x":50,"y":0.024},{"c":"Peanut","s":"Prior","x":52,"y":0.025},{"c":"Peanut","s":"Prior","x":54,"y":0.025},{"c":"Peanut","s":"Prior","x":56,"y":0.026},{"c":"Peanut","s":"Prior","x":58,"y":0.026},{"c":"Peanut","s":"Prior","x":60,"y":0.026},{"c":"Peanut","s":"Prior","x":62,"y":0.027},{"c":"Peanut","s":"Prior","x":64,"y":0.026},{"c":"Peanut","s":"Prior","x":66,"y":0.025},{"c":"Peanut","s":"Prior","x":68,"y":0.024},{"c":"Peanut","s":"Prior","x":70,"y":0.023},{"c":"Peanut","s":"Prior","x":72,"y":0.022},{"c":"Peanut","s":"Prior","x":74,"y":0.02},{"c":"Peanut","s":"Prior","x":76,"y":0.018},{"c":"Peanut","s":"Prior","x":78,"y":0.016},{"c":"Peanut","s":"Prior","x":80,"y":0.014},{"c":"Peanut","s":"Prior","x":82,"y":0.012},{"c":"Peanut","s":"Prior","x":84,"y":0.01},{"c":"Peanut","s":"Prior","x":86,"y":0.007},{"c":"Peanut","s":"Prior","x":88,"y":0.005},{"c":"Peanut","s":"Prior","x":90,"y":0.003},{"c":"Peanut","s":"Prior","x":92,"y":0.002},{"c":"Peanut","s":"Prior","x":94,"y":0.001},
{"c":"Peanut","s":"Posterior","x":42,"y":0.002},{"c":"Peanut","s":"Posterior","x":44,"y":0.008},{"c":"Peanut","s":"Posterior","x":46,"y":0.025},{"c":"Peanut","s":"Posterior","x":48,"y":0.065},{"c":"Peanut","s":"Posterior","x":50,"y":0.125},{"c":"Peanut","s":"Posterior","x":52,"y":0.153},{"c":"Peanut","s":"Posterior","x":54,"y":0.1},{"c":"Peanut","s":"Posterior","x":56,"y":0.04},{"c":"Peanut","s":"Posterior","x":58,"y":0.012},{"c":"Peanut","s":"Posterior","x":60,"y":0.002},
{"c":"White Lupin","s":"Prior","x":40,"y":0.001},{"c":"White Lupin","s":"Prior","x":42,"y":0.003},{"c":"White Lupin","s":"Prior","x":44,"y":0.006},{"c":"White Lupin","s":"Prior","x":46,"y":0.012},{"c":"White Lupin","s":"Prior","x":48,"y":0.02},{"c":"White Lupin","s":"Prior","x":50,"y":0.03},{"c":"White Lupin","s":"Prior","x":52,"y":0.042},{"c":"White Lupin","s":"Prior","x":54,"y":0.055},{"c":"White Lupin","s":"Prior","x":56,"y":0.066},{"c":"White Lupin","s":"Prior","x":58,"y":0.068},{"c":"White Lupin","s":"Prior","x":60,"y":0.06},{"c":"White Lupin","s":"Prior","x":62,"y":0.045},{"c":"White Lupin","s":"Prior","x":64,"y":0.03},{"c":"White Lupin","s":"Prior","x":66,"y":0.017},{"c":"White Lupin","s":"Prior","x":68,"y":0.008},{"c":"White Lupin","s":"Prior","x":70,"y":0.003},{"c":"White Lupin","s":"Prior","x":72,"y":0.001},
{"c":"White Lupin","s":"Posterior","x":48,"y":0.001},{"c":"White Lupin","s":"Posterior","x":50,"y":0.006},{"c":"White Lupin","s":"Posterior","x":52,"y":0.025},{"c":"White Lupin","s":"Posterior","x":54,"y":0.07},{"c":"White Lupin","s":"Posterior","x":56,"y":0.13},{"c":"White Lupin","s":"Posterior","x":58,"y":0.163},{"c":"White Lupin","s":"Posterior","x":60,"y":0.1},{"c":"White Lupin","s":"Posterior","x":62,"y":0.03},{"c":"White Lupin","s":"Posterior","x":64,"y":0.005}
]
},
"hconcat": [
{
 "resolve": {"scale": {"color": "shared"}, "legend": {"color": "shared"}},
 "title": {"text": "PNB", "orient": "bottom", "anchor": "middle", "frame": "bounds", "align": "left", "dx": 2, "fontSize": 10.5, "fontWeight": "normal", "color": "#000", "offset": -11},
 "vconcat": [
 {
 "data": {"name": "pnb"},
 "facet": {"field": "c", "type": "nominal", "title": null},
 "columns": 3,
 "spacing": {"column": 22, "row": 5},
 "title": {"text": "θ", "orient": "bottom", "anchor": "middle", "frame": "bounds", "align": "left", "dx": -7, "fontSize": 18, "fontWeight": "normal", "color": "#000", "offset": 10},
 "spec": {
  "width": 168, "height": 102,
  "layer": [
   {"transform": [{"filter": "datum.s == 'Prior'"}],
    "mark": {"type": "bar", "fillOpacity": 0.75, "stroke": "#222", "strokeWidth": 0.8},
    "encoding": {
     "x": {"field": "x", "type": "quantitative", "bin": {"binned": true, "step": 2}, "scale": {"domain": [0, 100], "nice": false, "zero": false}, "axis": {"values": [0, 20, 40, 60, 80, 100], "tickCount": 10, "format": "d", "title": null, "labelFlush": false, "labelOverlap": false, "labelPadding": 2}},
     "y": {"field": "y", "type": "quantitative", "stack": null, "scale": {"domain": [0, 0.165], "nice": false}, "axis": {"values": [0, 0.04, 0.08, 0.12, 0.16], "tickCount": 10, "format": ".2f", "title": null, "labelFlush": false, "labelOverlap": false, "labelPadding": 2}},
     "color": {"field": "s", "type": "nominal", "scale": {"domain": ["Prior", "Posterior"], "range": ["#2a65c0", "#cc2a2a"]}, "legend": {"title": null, "orient": "none", "legendX": 496, "legendY": -38, "direction": "horizontal", "symbolType": "square", "symbolSize": 324, "labelFontSize": 16, "labelColor": "#1a1a1a", "symbolOpacity": 0.65, "symbolStrokeColor": "#7f7f7f", "symbolStrokeWidth": 1, "columnPadding": 9, "labelOffset": 6}}
    }},
   {"transform": [{"filter": "datum.s == 'Posterior'"}],
    "mark": {"type": "bar", "fillOpacity": 0.75, "stroke": "#222", "strokeWidth": 0.8},
    "encoding": {
     "x": {"field": "x", "type": "quantitative", "bin": {"binned": true, "step": 2}},
     "y": {"field": "y", "type": "quantitative", "stack": null},
     "color": {"field": "s", "type": "nominal", "scale": {"domain": ["Prior", "Posterior"], "range": ["#2a65c0", "#cc2a2a"]}, "legend": {"title": null, "orient": "none", "legendX": 496, "legendY": -38, "direction": "horizontal", "symbolType": "square", "symbolSize": 324, "labelFontSize": 16, "labelColor": "#1a1a1a", "symbolOpacity": 0.65, "symbolStrokeColor": "#7f7f7f", "symbolStrokeWidth": 1, "columnPadding": 9, "labelOffset": 6}}
    }},
   {"transform": [{"filter": "datum.lab"}], "mark": {"type": "rule", "color": "#000", "strokeWidth": 1}, "encoding": {"x": {"datum": 0}, "x2": {"datum": 100}, "y": {"datum": 0}}},
   {"transform": [{"filter": "datum.lab"}], "mark": {"type": "rule", "color": "#000", "strokeWidth": 1}, "encoding": {"x": {"datum": 0}, "y": {"datum": 0}, "y2": {"datum": 0.165}}},
   {"transform": [{"filter": "datum.lab"}], "mark": {"type": "text", "align": "left", "baseline": "middle", "dx": 5, "fontSize": 14, "color": "#000"}, "encoding": {"x": {"datum": 0}, "y": {"datum": 0.16}, "text": {"field": "lab"}}}
  ]
 }
 }
 ]
},
{
 "resolve": {"scale": {"color": "shared"}, "legend": {"color": "shared"}},
 "title": {"text": "TNB", "orient": "bottom", "anchor": "middle", "frame": "bounds", "align": "left", "dx": -9, "fontSize": 10.5, "fontWeight": "normal", "color": "#000", "offset": -11},
 "vconcat": [
 {
 "data": {"name": "tnb"},
 "facet": {"field": "c", "type": "nominal", "title": null},
 "columns": 3,
 "spacing": {"column": 23, "row": 5},
 "title": {"text": "θ", "orient": "bottom", "anchor": "middle", "frame": "bounds", "align": "left", "dx": -20, "fontSize": 18, "fontWeight": "normal", "color": "#000", "offset": 10},
 "spec": {
  "width": 186, "height": 102,
  "layer": [
   {"transform": [{"filter": "datum.s == 'Prior'"}],
    "mark": {"type": "bar", "fillOpacity": 0.75, "stroke": "#222", "strokeWidth": 0.8},
    "encoding": {
     "x": {"field": "x", "type": "quantitative", "bin": {"binned": true, "step": 2}, "scale": {"domain": [0, 100], "nice": false, "zero": false}, "axis": {"values": [0, 20, 40, 60, 80, 100], "tickCount": 10, "format": "d", "title": null, "labelFlush": false, "labelOverlap": false, "labelPadding": 2}},
     "y": {"field": "y", "type": "quantitative", "stack": null, "scale": {"domain": [0, 0.165], "nice": false}, "axis": {"values": [0, 0.04, 0.08, 0.12, 0.16], "tickCount": 10, "labels": false, "title": null}},
     "color": {"field": "s", "type": "nominal", "scale": {"domain": ["Prior", "Posterior"], "range": ["#2a65c0", "#cc2a2a"]}, "legend": {"title": null, "orient": "none", "legendX": 496, "legendY": -38, "direction": "horizontal", "symbolType": "square", "symbolSize": 324, "labelFontSize": 16, "labelColor": "#1a1a1a", "symbolOpacity": 0.65, "symbolStrokeColor": "#7f7f7f", "symbolStrokeWidth": 1, "columnPadding": 9, "labelOffset": 6}}
    }},
   {"transform": [{"filter": "datum.s == 'Posterior'"}],
    "mark": {"type": "bar", "fillOpacity": 0.75, "stroke": "#222", "strokeWidth": 0.8},
    "encoding": {
     "x": {"field": "x", "type": "quantitative", "bin": {"binned": true, "step": 2}},
     "y": {"field": "y", "type": "quantitative", "stack": null},
     "color": {"field": "s", "type": "nominal", "scale": {"domain": ["Prior", "Posterior"], "range": ["#2a65c0", "#cc2a2a"]}, "legend": {"title": null, "orient": "none", "legendX": 496, "legendY": -38, "direction": "horizontal", "symbolType": "square", "symbolSize": 324, "labelFontSize": 16, "labelColor": "#1a1a1a", "symbolOpacity": 0.65, "symbolStrokeColor": "#7f7f7f", "symbolStrokeWidth": 1, "columnPadding": 9, "labelOffset": 6}}
    }},
   {"transform": [{"filter": "datum.lab"}], "mark": {"type": "rule", "color": "#000", "strokeWidth": 1}, "encoding": {"x": {"datum": 0}, "x2": {"datum": 100}, "y": {"datum": 0}}},
   {"transform": [{"filter": "datum.lab"}], "mark": {"type": "rule", "color": "#000", "strokeWidth": 1}, "encoding": {"x": {"datum": 0}, "y": {"datum": 0}, "y2": {"datum": 0.165}}},
   {"transform": [{"filter": "datum.lab"}], "mark": {"type": "text", "align": "left", "baseline": "middle", "dx": 5, "fontSize": 14, "color": "#000"}, "encoding": {"x": {"datum": 0}, "y": {"datum": 0.16}, "text": {"field": "lab"}}}
  ]
 }
 }
 ]
}
]
}
